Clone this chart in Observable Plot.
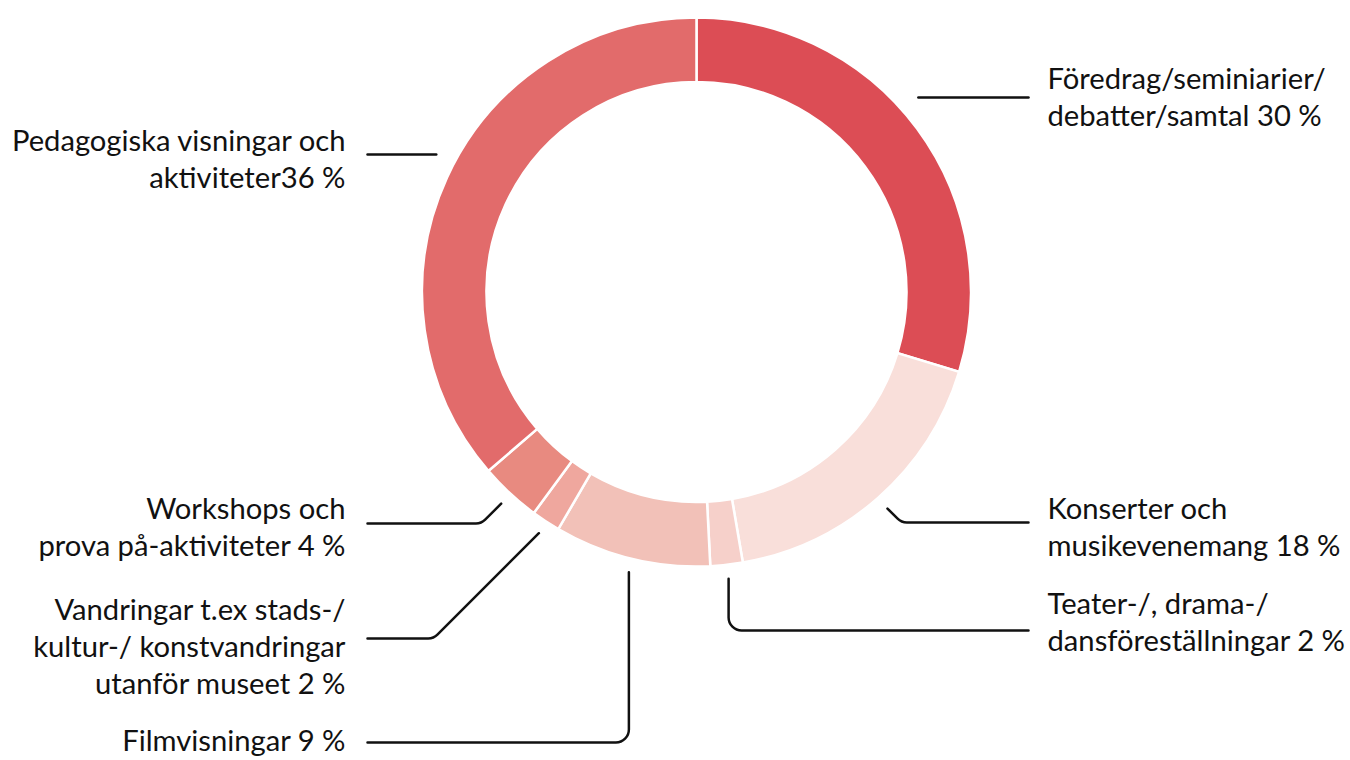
<!DOCTYPE html>
<html><head><meta charset="utf-8">
<script src="https://cdn.jsdelivr.net/npm/d3@7"></script>
<script src="https://cdn.jsdelivr.net/npm/@observablehq/plot@0.6"></script>
<style>html,body{margin:0;padding:0;background:#fff;} svg{display:block}</style>
</head><body><div id="chart"></div>
<script>
// ---- data ----
const categories = [
  "Föredrag/seminiarier/debatter/samtal",
  "Konserter och musikevenemang",
  "Teater-/, drama-/dansföreställningar",
  "Filmvisningar",
  "Vandringar t.ex stads-/kultur-/ konstvandringar utanför museet",
  "Workshops och prova på-aktiviteter",
  "Pedagogiska visningar och aktiviteter"
];
const values = [29.7, 17.6, 1.9, 9.2, 1.7, 3.6, 36.3];
const labels = [
  "Föredrag/seminiarier/\ndebatter/samtal 30 %",
  "Konserter och\nmusikevenemang 18 %",
  "Teater-/, drama-/\ndansföreställningar 2 %",
  "Filmvisningar 9 %",
  "Vandringar t.ex stads-/\nkultur-/ konstvandringar\nutanför museet 2 %",
  "Workshops och\nprova på-aktiviteter 4 %",
  "Pedagogiska visningar och\naktiviteter36 %"
];
const colors = ["#dc4d55", "#f9dfda", "#f6d0ca", "#f2c1b8", "#efa79e", "#e88a80", "#e26b6b"];

// ---- layout ----
const W = 1350, H = 760;
const CX = 696.5, CY = 292, R_OUT = 274.5, R_IN = 210, R_LEAD = 288, R_H = 295;
const side = [1, 1, 1, -1, -1, -1, -1];
const route = ["h", "d", "v", "v", "d", "d", "h"];
const lineY = [97, 522, 630, 742, 638, 523, 154];
const lastBaseline = [125, 555, 650, 750, 693, 555, 187];
const TEXT_X_R = 1047, TEXT_X_L = 345, LINE_END_R = 1028, LINE_END_L = 367;
const FONT = 29.2, LINE_PX = 37;

const color = Plot.scale({color: {type: "ordinal", domain: categories, range: colors}});
const pie = d3.pie().sort(null).value(d => d.value)(categories.map((c, i) => ({category: c, value: values[i]})));

// leader line points
const leaders = [];
pie.forEach((p, i) => {
  const a = (p.startAngle + p.endAngle) / 2;
  const sx = CX + R_LEAD * Math.sin(a), sy = CY - R_LEAD * Math.cos(a);
  const ly = lineY[i], s = side[i];
  const ex = s > 0 ? LINE_END_R : LINE_END_L;
  let pts;
  if (route[i] === "h") {
    const dx = Math.sqrt(R_H * R_H - (ly - CY) ** 2) * s;
    pts = [[CX + dx, ly], [ex, ly]];
  } else if (route[i] === "v") {
    pts = [[sx, sy], [sx, ly], [ex, ly]];
  } else {
    const d = Math.abs(ly - sy);
    pts = [[sx, sy], [sx + s * d, ly], [ex, ly]];
  }
  pts.forEach(([x, y]) => leaders.push({k: i, x, y}));
});

function roundedCurve(radius) {
  return (context) => {
    let pts = [];
    return {
      areaStart() {}, areaEnd() {},
      lineStart() { pts = []; },
      point(x, y) { pts.push([+x, +y]); },
      lineEnd() {
        if (!pts.length) return;
        context.moveTo(pts[0][0], pts[0][1]);
        for (let i = 1; i < pts.length - 1; i++) {
          context.arcTo(pts[i][0], pts[i][1], pts[i + 1][0], pts[i + 1][1], radius);
        }
        const last = pts[pts.length - 1];
        context.lineTo(last[0], last[1]);
      }
    };
  };
}

const texts = labels.map((t, i) => ({
  text: t,
  x: side[i] > 0 ? TEXT_X_R : TEXT_X_L,
  y: lastBaseline[i],
  side: side[i]
}));

const donut = (index, scales) => {
  const cx = scales.x(CX), cy = scales.y(CY);
  const ro = scales.x(CX + R_OUT) - cx, ri = scales.x(CX + R_IN) - cx;
  const arc = d3.arc().innerRadius(ri).outerRadius(ro);
  const g = d3.create("svg:g").attr("transform", `translate(${cx},${cy})`);
  g.selectAll("path").data(pie).join("path")
    .attr("d", arc)
    .attr("fill", d => color.apply(d.data.category))
    .attr("stroke", "#fff")
    .attr("stroke-width", 2.5)
    .attr("stroke-linejoin", "miter");
  return g.node();
};

const chart = Plot.plot({
  width: W, height: H,
  margin: 0,
  x: {domain: [0, W], range: [0, W], axis: null},
  y: {domain: [0, H], range: [0, H], axis: null},
  style: {background: "#fff", overflow: "visible"},
  marks: [
    donut,
    Plot.line(leaders, {x: "x", y: "y", z: "k", stroke: "#111", strokeWidth: 2.5, curve: roundedCurve(13)}),
    Plot.text(texts.filter(d => d.side > 0), {x: "x", y: "y", text: "text", textAnchor: "start", lineAnchor: "bottom", lineHeight: LINE_PX / FONT, fontSize: FONT, fontFamily: "Lato", fill: "#111"}),
    Plot.text(texts.filter(d => d.side < 0), {x: "x", y: "y", text: "text", textAnchor: "end", lineAnchor: "bottom", lineHeight: LINE_PX / FONT, fontSize: FONT, fontFamily: "Lato", fill: "#111"})
  ]
});
document.getElementById("chart").appendChild(chart);
</script>
</body></html>
